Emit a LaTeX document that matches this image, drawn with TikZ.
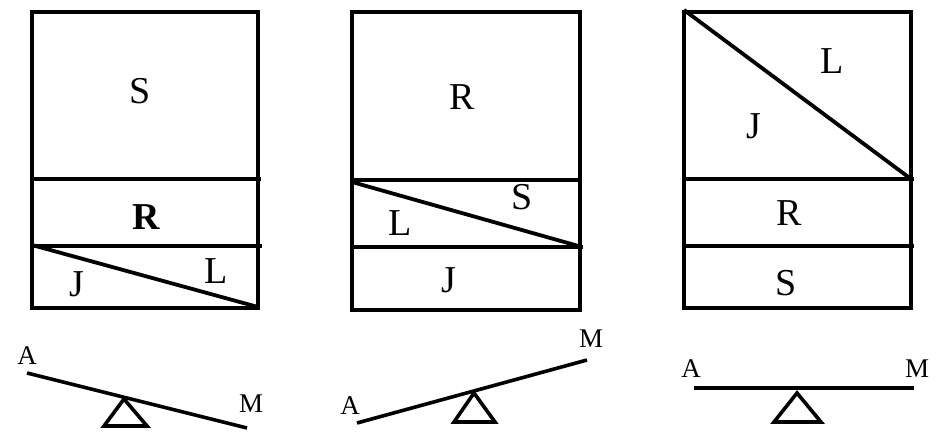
\documentclass[tikz,border=0pt]{standalone}
\usepackage{fontspec}
\setmainfont{Liberation Serif}
\begin{document}
\begin{tikzpicture}[x=1pt,y=-1pt,
  boxline/.style={line width=4.4pt,line cap=butt,line join=miter},
  midline/.style={line width=3.8pt},
  beam/.style={line width=3.6pt},
  pivot/.style={line width=3.6pt,line join=miter},
  lbl/.style={font=\fontsize{38}{38}\selectfont,inner sep=0pt},
  end/.style={font=\fontsize{27}{27}\selectfont,inner sep=0pt}]
\useasboundingbox (0,0) rectangle (936,433);
% ---------- panel 1 ----------
\draw[boxline] (32,12) rectangle (258,308);
\draw[midline] (32,179) -- (261,179);
\draw[midline] (32,246) -- (262,246);
\draw[midline] (32,245) -- (258,307);
\node[lbl] (s1) at (140,91) {S};
\node[lbl] (r1) at (146,217) {\textbf{R}};
\node[lbl] (j1) at (77,284) {J};
\node[lbl] (l1) at (216,271) {L};
\draw[beam] (27,373) -- (247,428);
\draw[pivot] (124,399) -- (104,426) -- (147,426) -- cycle;
\node[end] (a1) at (27,356) {A};
\node[end] (m1) at (251,404) {M};
% ---------- panel 2 ----------
\draw[boxline] (352,12) rectangle (580,310);
\draw[midline] (352,180) -- (580,180);
\draw[midline] (352,247) -- (583,247);
\draw[midline] (352,182) -- (582,247);
\node[lbl] (r2) at (462,97) {R};
\node[lbl] (s2) at (522,197) {S};
\node[lbl] (l2) at (400,223) {L};
\node[lbl] (j2) at (449,280) {J};
\draw[beam] (357,423) -- (587,360);
\draw[pivot] (474,393) -- (454,422) -- (495,422) -- cycle;
\node[end] (a2) at (350,406) {A};
\node[end] (m2) at (591,339) {M};
% ---------- panel 3 ----------
\draw[boxline] (684,12) rectangle (911,308);
\draw[midline] (684,179) -- (914,179);
\draw[midline] (684,246) -- (914,246);
\draw[midline] (684,10) -- (911,179);
\node[lbl] (l3) at (832,61) {L};
\node[lbl] (j3) at (754,126) {J};
\node[lbl] (r3) at (789,213) {R};
\node[lbl] (s3) at (786,283) {S};
\draw[beam] (694,388) -- (914,388);
\draw[pivot] (797,393) -- (774,422) -- (821,422) -- cycle;
\node[end] (a3) at (691,369) {A};
\node[end] (m3) at (917,369) {M};
\end{tikzpicture}
\end{document}
